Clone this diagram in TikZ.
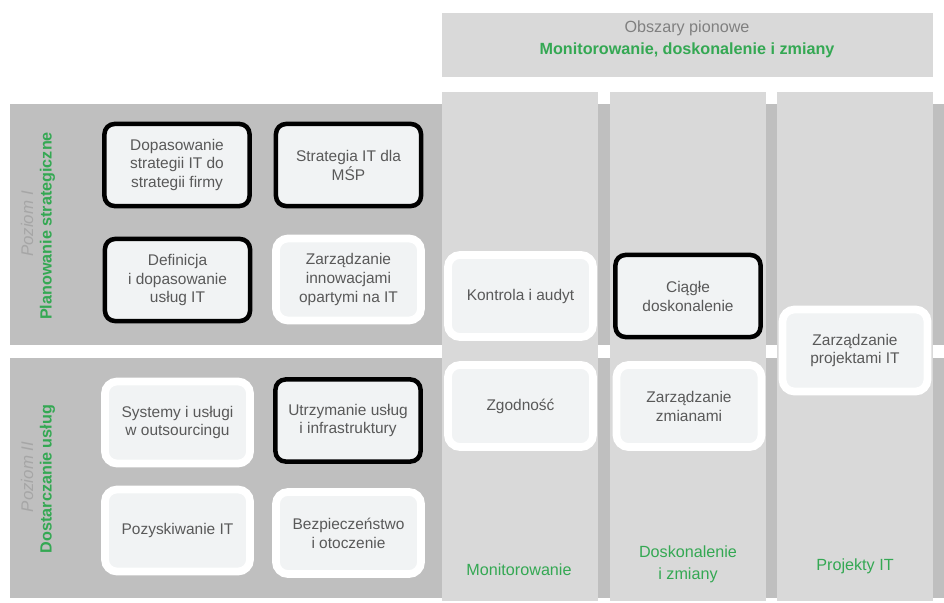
\documentclass[tikz,border=0pt]{standalone}
\usepackage{fontspec}
\setmainfont{Liberation Sans}
\definecolor{bandgray}{RGB}{191,191,191}
\definecolor{colgray}{RGB}{217,217,217}
\definecolor{boxfill}{RGB}{241,243,244}
\definecolor{txtgray}{RGB}{89,89,89}
\definecolor{lvlgray}{RGB}{166,166,166}
\definecolor{areagreen}{RGB}{52,168,83}
\usetikzlibrary{positioning}

\begin{document}
\begin{tikzpicture}[x=0.025cm, y=-0.025cm, font=\fontsize{11}{13.5}\selectfont,
    area/.style={rectangle, rounded corners=0.25cm, fill=boxfill, text=txtgray, align=center, minimum width=3.625cm, minimum height=2.05cm, inner sep=0pt},
    keyarea/.style={area, draw=black, line width=3.2pt},
    otherarea/.style={area, draw=white, line width=5.5pt, rounded corners=0.3cm},
    level/.style={rotate=90, font=\fontsize{12}{14}\selectfont\itshape, text=lvlgray},
    levelname/.style={rotate=90, font=\fontsize{11.5}{14}\selectfont\bfseries, text=areagreen},
    colname/.style={text=areagreen, align=center, font=\fontsize{11.5}{15.5}\selectfont},
]
\useasboundingbox (0,0) rectangle (944,603);
% horizontal levels
\fill[bandgray] (10,104) rectangle (944,345);
\fill[bandgray] (10,358) rectangle (944,598);
% vertical areas
\fill[colgray] (442,13) rectangle (933,77);
\foreach \x in {442,610,777} \fill[colgray] (\x,92) rectangle ++(156,509);

\node[text=gray, font=\fontsize{11.5}{14}\selectfont] (head) at (687,28) {Obszary pionowe};
\node[font=\fontsize{11.5}{14}\selectfont\bfseries, text=areagreen] (headname) at (687,50) {Monitorowanie, doskonalenie i zmiany};

\node[level] (lvl1) at (27,224) {Poziom I};
\node[levelname] (lvl1name) at (47.5,226) {Planowanie strategiczne};
\node[level] (lvl2) at (27,477) {Poziom II};
\node[levelname] (lvl2name) at (47.5,479) {Dostarczanie usług};

% level I
\node[keyarea] (fit) at (177,165) {Dopasowanie\\strategii IT do\\strategii firmy};
\node[keyarea] (msp) at (348.5,165) {Strategia IT dla\\MŚP};
\node[keyarea] (def) at (177.5,280) {Definicja\\i dopasowanie\\usług IT};
\node[otherarea] (innov) at (348.5,279.5) {Zarządzanie\\innowacjami\\opartymi na IT};

% level II
\node[otherarea] (outs) at (177.5,422.5) {Systemy i usługi\\w outsourcingu};
\node[keyarea] (maint) at (348,420.5) {Utrzymanie usług\\i infrastruktury};
\node[otherarea] (acq) at (177.5,530.5) {Pozyskiwanie IT};
\node[otherarea] (sec) at (348.5,533) {Bezpieczeństwo\\i otoczenie};

% vertical areas
\node[otherarea] (audit) at (520.5,296) {Kontrola i audyt};
\node[otherarea] (compl) at (520.5,406) {Zgodność};
\node[keyarea] (improve) at (688,296) {Ciągłe\\doskonalenie};
\node[otherarea] (change) at (689,406) {Zarządzanie\\zmianami};
\node[otherarea] (proj) at (855,350.5) {Zarządzanie\\projektami IT};

\node[colname] (monit) at (519,570) {Monitorowanie};
\node[colname] (improvename) at (688,564) {Doskonalenie\\i zmiany};
\node[colname] (projname) at (855,566) {Projekty IT};
\end{tikzpicture}
\end{document}
